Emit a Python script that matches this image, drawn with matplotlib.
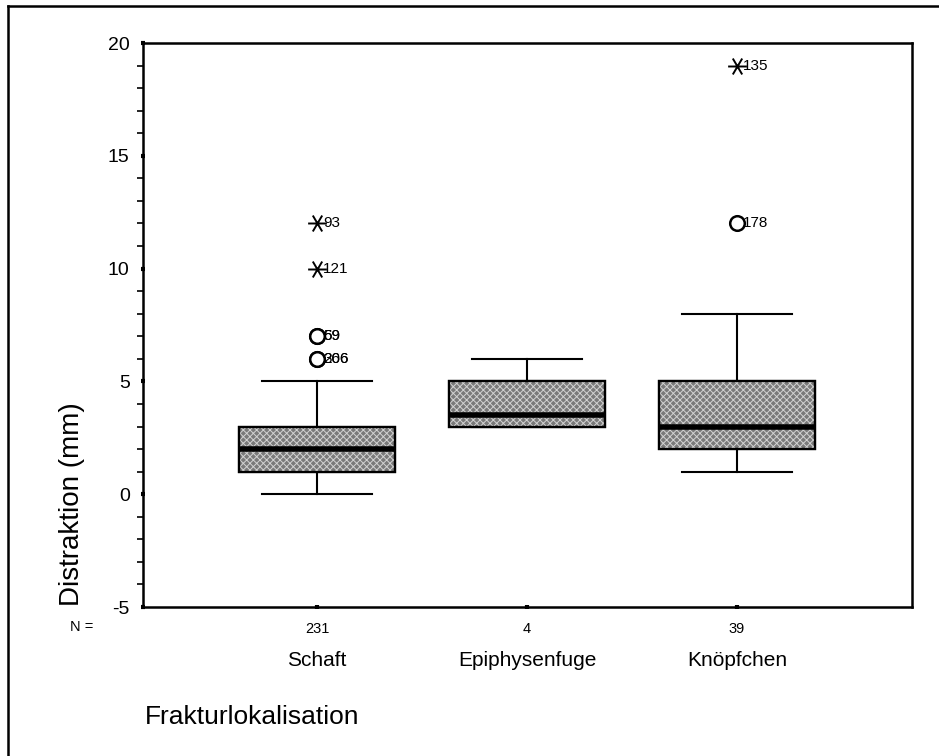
import matplotlib
matplotlib.use("Agg")
import matplotlib.pyplot as plt
from matplotlib.lines import Line2D
from matplotlib.patches import PathPatch
from matplotlib.path import Path
import matplotlib.transforms as mtransforms

plt.rcParams['font.family'] = ['Liberation Sans', 'DejaVu Sans']
plt.rcParams['hatch.linewidth'] = 0.7

# Box statistics per fracture location
categories = ["Schaft", "Epiphysenfuge", "Knöpfchen"]
counts = [231, 4, 39]
q1 = [1, 3, 2]
median = [2, 3.5, 3]
q3 = [3, 5, 5]
whisker_low = [0, 3, 1]
whisker_high = [5, 6, 8]

# Outliers (circles) and extreme values (stars) with case numbers
outlier_group = [1, 1, 1, 1, 3]
outlier_value = [7, 7, 6, 6, 12]
outlier_label = ["59", "69", "266", "306", "178"]
extreme_group = [1, 1, 3]
extreme_value = [12, 10, 19]
extreme_label = ["93", "121", "135"]

y_ticks = [-5, 0, 5, 10, 15, 20]

# star marker: horizontal bar crossed by an X
star = Path([(-1.0, 0.0), (1.0, 0.0),
             (-0.5, -0.85), (0.5, 0.85),
             (-0.5, 0.85), (0.5, -0.85)],
            [Path.MOVETO, Path.LINETO, Path.MOVETO, Path.LINETO,
             Path.MOVETO, Path.LINETO])

fig = plt.figure(figsize=(9.39, 7.56), dpi=100)
ax = fig.add_axes([143/939, 1 - 607/756, (912 - 143)/939, (607 - 43)/756])

stats = []
for i in range(len(categories)):
    stats.append(dict(med=median[i], q1=q1[i], q3=q3[i],
                      whislo=whisker_low[i], whishi=whisker_high[i],
                      fliers=[], label=categories[i]))

positions = list(range(1, len(categories) + 1))
res = ax.bxp(stats, positions=positions, widths=0.745, patch_artist=True,
             showfliers=False, capwidths=0.525,
             boxprops=dict(facecolor='#7a7a7a', edgecolor='black', linewidth=1.6),
             medianprops=dict(color='black', linewidth=4.0, solid_capstyle='butt'),
             whiskerprops=dict(color='black', linewidth=1.5),
             capprops=dict(color='black', linewidth=1.5))

# light cross-hatch texture on top of the gray boxes
for box in res['boxes']:
    overlay = PathPatch(box.get_path(), transform=box.get_transform(),
                        facecolor='none', edgecolor='#d2d2d2', hatch='xxxxx',
                        linewidth=0, zorder=box.get_zorder() + 0.1)
    ax.add_patch(overlay)
    outline = PathPatch(box.get_path(), transform=box.get_transform(),
                        facecolor='none', edgecolor='black', linewidth=1.6,
                        zorder=box.get_zorder() + 0.2)
    ax.add_patch(outline)
for m in res['medians']:
    m.set_zorder(5)

ax.plot(outlier_group, outlier_value, linestyle='none', marker='o',
        markersize=10.5, markerfacecolor='white', markeredgecolor='black',
        markeredgewidth=1.8, zorder=6)
ax.plot(extreme_group, extreme_value, linestyle='none', marker=star,
        markersize=13.5, markeredgecolor='black', markeredgewidth=1.4, zorder=6)

label_offset = mtransforms.offset_copy(ax.transData, fig=fig, x=4.5, y=0, units='points')
for g, v, t in zip(outlier_group, outlier_value, outlier_label):
    ax.text(g, v, t, transform=label_offset, fontsize=11, ha='left', va='center', zorder=7)
for g, v, t in zip(extreme_group, extreme_value, extreme_label):
    ax.text(g, v, t, transform=label_offset, fontsize=11, ha='left', va='center', zorder=7)

ax.set_xlim(0.171, 3.833)
ax.set_ylim(-5, 20)

ax.set_yticks(y_ticks)
ax.set_yticklabels([str(t) for t in y_ticks])
ax.set_yticks(range(-5, 21), minor=True)
ax.tick_params(axis='y', which='major', direction='inout', length=3.2, width=3.0,
               labelsize=14, pad=8)
ax.tick_params(axis='y', which='minor', direction='out', length=4.5, width=1.2)

ax.set_xticks(positions)
ax.set_xticklabels([str(c) for c in counts])
ax.tick_params(axis='x', which='major', direction='inout', length=3.2, width=3.0,
               labelsize=10.5, pad=9)
ax.tick_params(axis='x', which='minor', bottom=False)

for s in ax.spines.values():
    s.set_linewidth(1.8)

ax.text(82/939, 1 - 627/756, "N =", transform=fig.transFigure, fontsize=10.5,
        ha='center', va='center')
cat_trans = mtransforms.blended_transform_factory(ax.transData, fig.transFigure)
for p, c in zip(positions, categories):
    ax.text(p, 1 - 660/756, c, transform=cat_trans, fontsize=15,
            ha='center', va='center')

fig.text(145/939, 1 - 717/756, "Frakturlokalisation", fontsize=19,
         ha='left', va='center')
fig.text(72/939, 1 - 504/756, "Distraktion (mm)", fontsize=20, rotation=90,
         ha='center', va='center')

# page frame (top and left edge visible)
fig.add_artist(Line2D([8/939, 1.02], [1 - 6/756, 1 - 6/756], color='black',
                      linewidth=1.8, transform=fig.transFigure))
fig.add_artist(Line2D([8/939, 8/939], [-0.02, 1 - 6/756], color='black',
                      linewidth=1.8, transform=fig.transFigure))

fig.savefig("out.png", dpi=100)
